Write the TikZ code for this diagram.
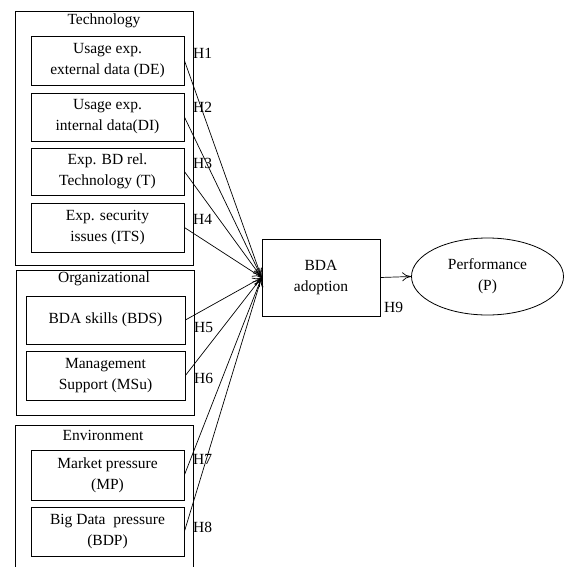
\documentclass[tikz,border=0pt]{standalone}
\usepackage{fontspec}
\setmainfont{Liberation Serif}
\newfontfamily\tnr{Liberation Serif}
\usetikzlibrary{shapes.geometric,arrows.meta}
\begin{document}
\begin{tikzpicture}[x=1pt,y=-1pt,
  every node/.style={font=\tnr\fontsize{15.5}{21}\selectfont},
  factor/.style={draw,line width=0.8pt,align=center,inner sep=0pt},
  group/.style={draw,line width=0.8pt},
  title/.style={inner sep=0pt},
  hyp/.style={anchor=west,inner sep=0pt},
  link/.style={line width=0.7pt,-{To[length=9pt,width=9pt]}}]
\useasboundingbox (0,0) rectangle (564,567);
% group frames
\draw[group] (15,11) rectangle (193,265);
\draw[group] (16,270) rectangle (194,415);
\draw[group] (15,567) -- (15,425) -- (193,425) -- (193,567);
\node[title] (tt) at (104,21) {Technology};
\node[title] (ot) at (104,279) {Organizational};
\node[title] (et) at (103,435) {Environment};
% factor boxes
\node[factor,minimum width=153pt,minimum height=49pt] (de) at (107.5,60.5) {Usage exp.\\external data (DE)};
\node[factor,minimum width=153pt,minimum height=48pt] (di) at (107.5,117) {Usage exp.\\internal data(DI)};
\node[factor,minimum width=153pt,minimum height=47pt] (t) at (107.5,171.5) {Exp. BD rel.\\Technology (T)};
\node[factor,minimum width=153pt,minimum height=49pt] (its) at (107.5,227.5) {Exp. security\\issues (ITS)};
\node[factor,minimum width=159pt,minimum height=48pt] (bds) at (105.5,320) {BDA skills (BDS)};
\node[factor,minimum width=159pt,minimum height=49pt] (msu) at (105.5,375.5) {Management\\Support (MSu)};
\node[factor,minimum width=153pt,minimum height=50pt] (mp) at (107.5,475) {Market pressure\\(MP)};
\node[factor,minimum width=153pt,minimum height=49pt] (bdp) at (107.5,531.5) {Big Data\ \ pressure\\(BDP)};
% central and outcome
\node[factor,minimum width=118pt,minimum height=77pt] (bda) at (321,277.5) {BDA\\adoption};
\node[draw,line width=0.8pt,ellipse,minimum width=152pt,minimum height=77pt,inner sep=0pt,align=center] (perf) at (487.5,276.5) {Performance\\(P)};
% links
\foreach \n in {de,di,t,its,bds,msu,mp,bdp}
  \draw[link] (\n.east) -- (bda.west);
\draw[link] (bda.east) -- (perf.west);
% hypothesis labels
\node[hyp] (h1) at (193,53) {H1};
\node[hyp] (h2) at (193,107) {H2};
\node[hyp] (h3) at (193,163) {H3};
\node[hyp] (h4) at (193,219) {H4};
\node[hyp] (h5) at (194,327) {H5};
\node[hyp] (h6) at (194,378) {H6};
\node[hyp] (h7) at (193,459) {H7};
\node[hyp] (h8) at (193,527) {H8};
\node[hyp] (h9) at (384,307) {H9};
\end{tikzpicture}
\end{document}
